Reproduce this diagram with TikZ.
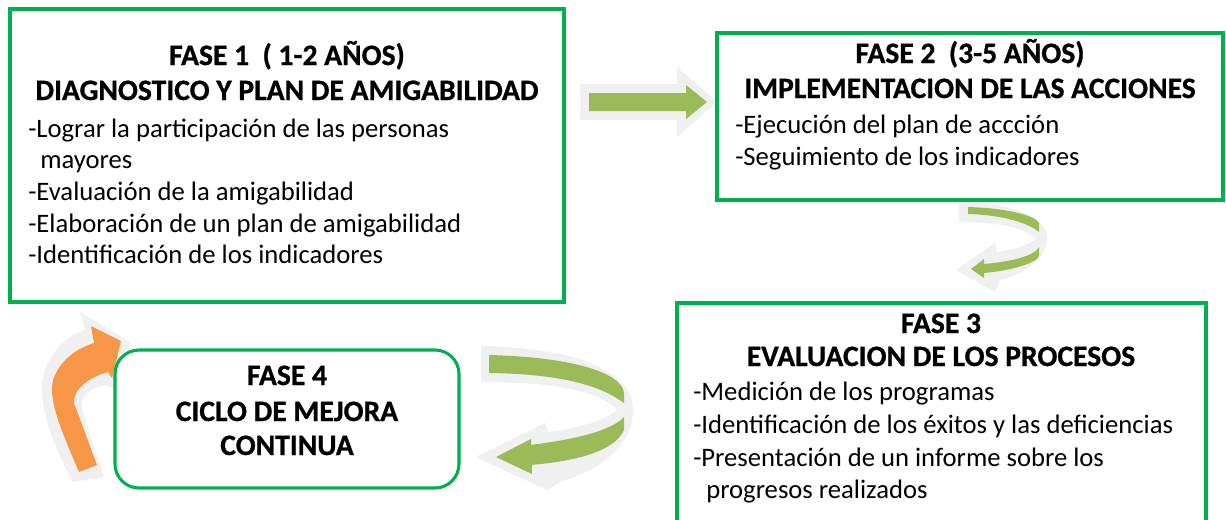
\documentclass[tikz,border=0pt]{standalone}
\usepackage{fontspec}
\setmainfont{Carlito}
\newfontfamily\headfont[FakeBold=0.8]{Carlito Bold}
\usetikzlibrary{fit}
\definecolor{boxgreen}{HTML}{00B050}
\definecolor{arrowgreen}{HTML}{9BBB59}
\definecolor{shade}{HTML}{F0F0F0}
\definecolor{orangearrow}{HTML}{F79646}
\begin{document}
\begin{tikzpicture}[x=0.75pt,y=-0.75pt,
  box/.style={draw=boxgreen, line width=2.3pt, fill=white, inner sep=0pt},
  headtxt/.style={font=\fontsize{22.2}{26}\headfont, anchor=base, inner sep=0pt},
  bodytxt/.style={font=\fontsize{20}{24}\selectfont, anchor=base west, inner sep=0pt},
  shadebg/.style={fill=shade},
  grn/.style={fill=arrowgreen},
  org/.style={fill=orangearrow}]
\useasboundingbox (0,0) rectangle (1226,519);
\clip (0,0) rectangle (1226,519);
\fill[white] (0,0) rectangle (1226,519);

% straight arrow fase 1 -> fase 2
\fill[shadebg] (580,84) -- (677,84) -- (677,67) -- (717,102) -- (677,137) -- (677,120) -- (580,120) -- cycle;
\fill[grn] (589,93) -- (686,93) -- (686,85) -- (707,102) -- (686,119) -- (686,111) -- (589,111) -- cycle;

% curved arrow fase 2 -> fase 3
\fill[shadebg] (959,202) .. controls (1015,203) and (1047,218) .. (1047,238)
  .. controls (1047,258) and (1025,274) .. (1000,280) -- (995,292) -- (956,270) -- (995,243) -- (997,252)
  .. controls (1015,250) and (1030,244) .. (1036,239)
  .. controls (1025,228) and (1000,222) .. (959,222) -- cycle;
\fill[grn] (968,207) .. controls (1005,208) and (1035,215) .. (1039,223) -- (1039,232)
  .. controls (1030,224) and (1005,215) .. (968,214) -- cycle;
\fill[grn] (1039,247) .. controls (1035,256) and (1010,262) .. (983,264) -- (983,273)
  .. controls (1010,271) and (1037,263) .. (1039,256) -- cycle;
\fill[grn] (971,269) -- (984,259) -- (984,278) -- cycle;

% curved arrow fase 3 -> fase 4
\fill[shadebg] (481,346) .. controls (580,348) and (633,372) .. (633,410)
  .. controls (633,445) and (600,470) .. (560,482) -- (547,490) -- (476,457) -- (545,423) -- (548,432)
  .. controls (580,428) and (605,420) .. (617,410)
  .. controls (600,390) and (550,382) .. (481,382) -- cycle;
\fill[grn] (489,355) .. controls (570,357) and (622,372) .. (624,393) -- (624,403)
  .. controls (600,385) and (560,374) .. (489,373) -- cycle;
\fill[grn] (624,417) .. controls (610,432) and (570,440) .. (530,445) -- (530,465)
  .. controls (580,461) and (615,450) .. (624,430) -- cycle;
\fill[grn] (496,457) -- (531,439) -- (532,474) -- cycle;

% orange arrow fase 4 -> fase 1
\fill[shadebg] (73,482) .. controls (50,440) and (35,395) .. (45,370)
  .. controls (55,345) and (70,335) .. (85,330) -- (80,312) -- (130,342) -- (118,390) -- (105,385)
  .. controls (90,388) and (80,395) .. (82,410) -- (104,477) -- cycle;
\fill[org] (79,472) .. controls (62,432) and (45,395) .. (55,375)
  .. controls (63,358) and (78,348) .. (94,343) -- (91,326) -- (121,341) -- (112,378) -- (108,372)
  .. controls (92,376) and (73,388) .. (74,403) -- (97,465) -- cycle;

% boxes
\node[box, fit={(10,9) (564,302)}] (f1) {};
\node[box, fit={(717,33) (1223,200)}] (f2) {};
\node[box, fit={(677,303) (1206,540)}] (f3) {};
\node[box, rounded corners=18pt, fit={(115,350) (459,488)}] (f4) {};

% fase 1 text
\node[headtxt] (h1a) at (287,65) {FASE 1\ \ ( 1-2 AÑOS)};
\node[headtxt] (h1b) at (287,100) {DIAGNOSTICO Y PLAN DE AMIGABILIDAD};
\node[bodytxt] (b1a) at (28,137) {-Lograr la participación de las personas};
\node[bodytxt] (b1b) at (40,168) {mayores};
\node[bodytxt] (b1c) at (28,200) {-Evaluación de la amigabilidad};
\node[bodytxt] (b1d) at (28,232) {-Elaboración de un plan de amigabilidad};
\node[bodytxt] (b1e) at (28,263) {-Identificación de los indicadores};

% fase 2 text
\node[headtxt] (h2a) at (970,63) {FASE 2\ \ (3-5 AÑOS)};
\node[headtxt] (h2b) at (970,98) {IMPLEMENTACION DE LAS ACCIONES};
\node[bodytxt] (b2a) at (735,133) {-Ejecución del plan de accción};
\node[bodytxt] (b2b) at (735,165) {-Seguimiento de los indicadores};

% fase 3 text
\node[headtxt] (h3a) at (941,333) {FASE 3};
\node[headtxt] (h3b) at (941,366) {EVALUACION DE LOS PROCESOS};
\node[bodytxt] (b3a) at (693,400) {-Medición de los programas};
\node[bodytxt] (b3b) at (693,433) {-Identificación de los éxitos y las deficiencias};
\node[bodytxt] (b3c) at (693,466) {-Presentación de un informe sobre los};
\node[bodytxt] (b3d) at (706,498) {progresos realizados};

% fase 4 text
\node[headtxt] (h4a) at (287,385) {FASE 4};
\node[headtxt] (h4b) at (287,421) {CICLO DE MEJORA};
\node[headtxt] (h4c) at (287,455) {CONTINUA};
\end{tikzpicture}
\end{document}
